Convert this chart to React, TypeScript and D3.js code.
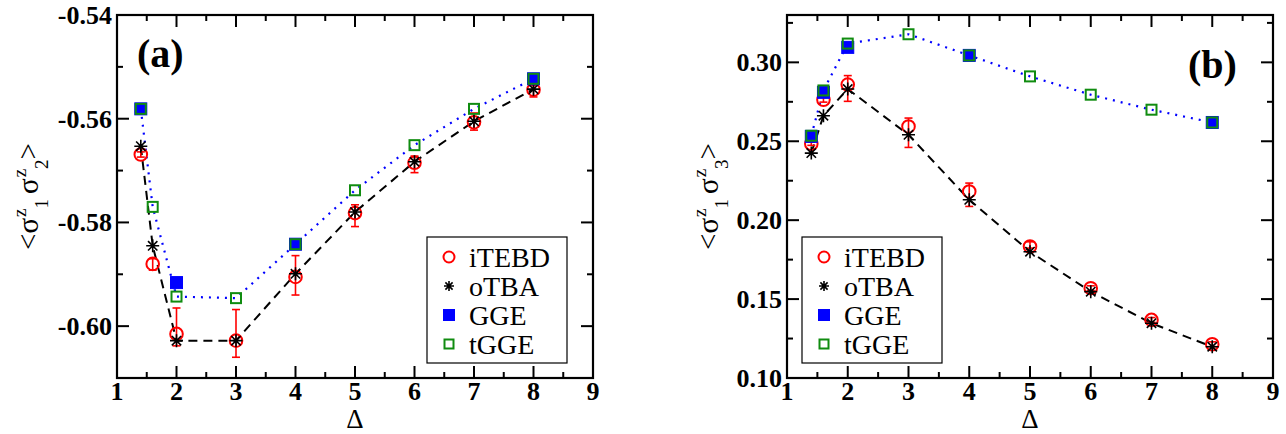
import * as d3 from 'd3';

// Δ values
const deltas = [1.4, 1.6, 2, 3, 4, 5, 6, 7, 8];
const ggeDeltas = [1.4, 2, 4, 8];
const ggeDeltasB = [1.4, 1.6, 2, 4, 8];

// panel (a): <σ1 σ2>
const itebdA = [-0.5669, -0.588, -0.6015, -0.6028, -0.5905, -0.5782, -0.5685, -0.5607, -0.5544];
const itebdAUp = [0.0005, 0.001, 0.005, 0.006, 0.0041, 0.0016, 0.0013, 0.0018, 0.0008];
const itebdADown = [0.0005, 0.0012, 0.0023, 0.0032, 0.0035, 0.0026, 0.0019, 0.0015, 0.0014];
const otbaA = [-0.5653, -0.5845, -0.6028, -0.6028, -0.5899, -0.578, -0.5683, -0.5605, -0.5543];
const ggeA = [-0.5581, -0.5916, -0.5842, -0.5523];
const tggeA = [-0.5581, -0.577, -0.5943, -0.5946, -0.5842, -0.5738, -0.5651, -0.5581, -0.5523];

// panel (b): <σ1 σ3>
const itebdB = [0.2484, 0.2763, 0.2859, 0.2594, 0.2182, 0.1833, 0.1569, 0.1368, 0.1214];
const itebdBUp = [0.001, 0.0015, 0.0057, 0.0053, 0.0053, 0.003, 0.0015, 0.0015, 0.0015];
const itebdBDown = [0.001, 0.0015, 0.0106, 0.0133, 0.0095, 0.001, 0.0015, 0.0015, 0.0015];
const otbaB = [0.2425, 0.2662, 0.2831, 0.2541, 0.2129, 0.18, 0.1547, 0.1347, 0.1198];
const ggeB = [0.2531, 0.281, 0.3095, 0.3044, 0.2619];
const tggeB = [0.2535, 0.2822, 0.3119, 0.3178, 0.3044, 0.2911, 0.2795, 0.27, 0.2619];

const xTicks = [1, 2, 3, 4, 5, 6, 7, 8, 9];
const yTicksA = [-0.6, -0.58, -0.56, -0.54];
const yTicksB = [0.1, 0.15, 0.2, 0.25, 0.3];
const legendNames = ['iTEBD', 'oTBA', 'GGE', 'tGGE'];

const SERIF = "'Liberation Serif', 'DejaVu Serif', serif";
const RED = '#ff0000';
const BLUE = '#0000ff';
const GREEN = '#108c10';

function starPath(s: number) {
  const k = s * 0.72;
  return `M${-s},0L${s},0M0,${-s}L0,${s}M${-k},${-k}L${k},${k}M${-k},${k}L${k},${-k}`;
}

function Marker({ kind, x, y, small }: { kind: string; x: number; y: number; small?: boolean }) {
  if (kind === 'iTEBD')
    return <circle cx={x} cy={y} r={small ? 5.5 : 6.3} fill="none" stroke={RED} strokeWidth={2} />;
  if (kind === 'oTBA')
    return <path d={starPath(small ? 5 : 6.5)} transform={`translate(${x},${y})`} stroke="#000" strokeWidth={1.6} fill="none" />;
  const s = small ? 11 : 12;
  if (kind === 'GGE')
    return <rect x={x - s / 2} y={y - s / 2} width={s} height={s} fill={BLUE} stroke={BLUE} strokeWidth={1} />;
  return <rect x={x - s / 2 + 1} y={y - s / 2 + 1} width={s - 2} height={s - 2} fill="none" stroke={GREEN} strokeWidth={2} />;
}

type PanelProps = {
  left: number; right: number; top: number; bottom: number;
  yDomain: [number, number]; yTicks: number[]; yMinor: number; yFmt: (v: number) => string;
  itebd: number[]; up: number[]; down: number[]; otba: number[];
  gx: number[]; gge: number[]; tgge: number[];
  tag: string; tagX: number; tagY: number;
  legX: number; legY: number;
  sub: string; labelX: number;
};

function Panel(p: PanelProps) {
  const x = d3.scaleLinear().domain([1, 9]).range([p.left, p.right]);
  const y = d3.scaleLinear().domain(p.yDomain).range([p.bottom, p.top]);
  const xMinor = d3.range(1.5, 9, 1);
  const yMinor = d3.range(p.yDomain[0], p.yDomain[1] + 1e-9, p.yMinor)
    .filter(v => !p.yTicks.some(t => Math.abs(t - v) < 1e-6));
  const MAJ = 12, MIN = 6;
  const dashed = d3.line<number>().x((_, i) => x(deltas[i])).y(d => y(d));
  const midX = (p.left + p.right) / 2;
  const midY = (p.top + p.bottom) / 2;

  return (
    <g fontFamily={SERIF}>
      {/* ticks */}
      {xTicks.map(t => (
        <g key={'xt' + t}>
          <line x1={x(t)} x2={x(t)} y1={p.bottom} y2={p.bottom - MAJ} stroke="#000" strokeWidth={2} />
          <line x1={x(t)} x2={x(t)} y1={p.top} y2={p.top + MAJ} stroke="#000" strokeWidth={2} />
          <text x={x(t)} y={p.bottom + 22} textAnchor="middle" fontWeight="bold" fontSize={26}>{t}</text>
        </g>
      ))}
      {xMinor.map(t => (
        <g key={'xm' + t}>
          <line x1={x(t)} x2={x(t)} y1={p.bottom} y2={p.bottom - MIN} stroke="#000" strokeWidth={2} />
          <line x1={x(t)} x2={x(t)} y1={p.top} y2={p.top + MIN} stroke="#000" strokeWidth={2} />
        </g>
      ))}
      {p.yTicks.map(t => (
        <g key={'yt' + t}>
          <line x1={p.left} x2={p.left + MAJ} y1={y(t)} y2={y(t)} stroke="#000" strokeWidth={2} />
          <line x1={p.right} x2={p.right - MAJ} y1={y(t)} y2={y(t)} stroke="#000" strokeWidth={2} />
          <text x={p.left - 5} y={y(t) + 9} textAnchor="end" fontWeight="bold" fontSize={26}>{p.yFmt(t)}</text>
        </g>
      ))}
      {yMinor.map(t => (
        <g key={'ym' + t}>
          <line x1={p.left} x2={p.left + MIN} y1={y(t)} y2={y(t)} stroke="#000" strokeWidth={2} />
          <line x1={p.right} x2={p.right - MIN} y1={y(t)} y2={y(t)} stroke="#000" strokeWidth={2} />
        </g>
      ))}
      <rect x={p.left} y={p.top} width={p.right - p.left} height={p.bottom - p.top} fill="none" stroke="#000" strokeWidth={2.2} />

      {/* lines */}
      <path d={dashed(p.otba) || ''} fill="none" stroke="#000" strokeWidth={2} strokeDasharray="9,6" />
      <path d={dashed(p.tgge) || ''} fill="none" stroke={BLUE} strokeWidth={2.2} strokeDasharray="2,6" />

      {/* error bars */}
      {p.itebd.map((v, i) => {
        const cx = x(deltas[i]);
        const y1 = y(v + p.up[i]);
        const y2 = y(v - p.down[i]);
        return (
          <g key={'eb' + i} stroke={RED} strokeWidth={1.6}>
            <line x1={cx} x2={cx} y1={y1} y2={y2} />
            <line x1={cx - 4} x2={cx + 4} y1={y1} y2={y1} />
            <line x1={cx - 4} x2={cx + 4} y1={y2} y2={y2} />
          </g>
        );
      })}
      {p.itebd.map((v, i) => <Marker key={'c' + i} kind="iTEBD" x={x(deltas[i])} y={y(v)} />)}
      {p.otba.map((v, i) => <Marker key={'s' + i} kind="oTBA" x={x(deltas[i])} y={y(v)} />)}
      {p.gge.map((v, i) => <Marker key={'g' + i} kind="GGE" x={x(p.gx[i])} y={y(v)} />)}
      {p.tgge.map((v, i) => <Marker key={'t' + i} kind="tGGE" x={x(deltas[i])} y={y(v)} />)}

      {/* legend */}
      <rect x={p.legX} y={p.legY} width={140} height={126} fill="#fff" stroke="#000" strokeWidth={1.2} />
      {legendNames.map((n, i) => (
        <g key={n}>
          <Marker kind={n} x={p.legX + 22} y={p.legY + 20 + i * 29} small />
          <text x={p.legX + 42} y={p.legY + 29.5 + i * 29} fontSize={28}>{n}</text>
        </g>
      ))}

      {/* panel tag */}
      <text x={p.tagX} y={p.tagY} fontWeight="bold" fontSize={40}>{p.tag}</text>

      {/* axis titles */}
      <text x={midX} y={428} textAnchor="middle" fontSize={27}>Δ</text>
      <text transform={`translate(${p.labelX},${midY}) rotate(-90)`} textAnchor="middle" fontSize={29}>
        <tspan>&lt;σ</tspan>
        <tspan fontSize={19} dy={-12} dx={1}>z</tspan>
        <tspan fontSize={19} dy={22}>1</tspan>
        <tspan dy={-10} dx={5}>σ</tspan>
        <tspan fontSize={19} dy={-12} dx={1}>z</tspan>
        <tspan fontSize={19} dy={22}>{p.sub}</tspan>
        <tspan dy={-10}>&gt;</tspan>
      </text>
    </g>
  );
}

export default function App() {
  return (
    <svg width={1286} height={434} style={{ position: 'absolute', left: 0, top: 0, background: '#fff' }}>
      <Panel
        left={117} right={593} top={15} bottom={378}
        yDomain={[-0.61, -0.54]} yTicks={yTicksA} yMinor={0.01} yFmt={v => v.toFixed(2)}
        itebd={itebdA} up={itebdAUp} down={itebdADown} otba={otbaA}
        gx={ggeDeltas} gge={ggeA} tgge={tggeA}
        tag="(a)" tagX={137} tagY={67}
        legX={427} legY={237}
        sub="2" labelX={38}
      />
      <Panel
        left={787} right={1273} top={15} bottom={378}
        yDomain={[0.1, 0.33]} yTicks={yTicksB} yMinor={0.025} yFmt={v => v.toFixed(2)}
        itebd={itebdB} up={itebdBUp} down={itebdBDown} otba={otbaB}
        gx={ggeDeltasB} gge={ggeB} tgge={tggeB}
        tag="(b)" tagX={1188} tagY={78}
        legX={802} legY={237}
        sub="3" labelX={718}
      />
    </svg>
  );
}
